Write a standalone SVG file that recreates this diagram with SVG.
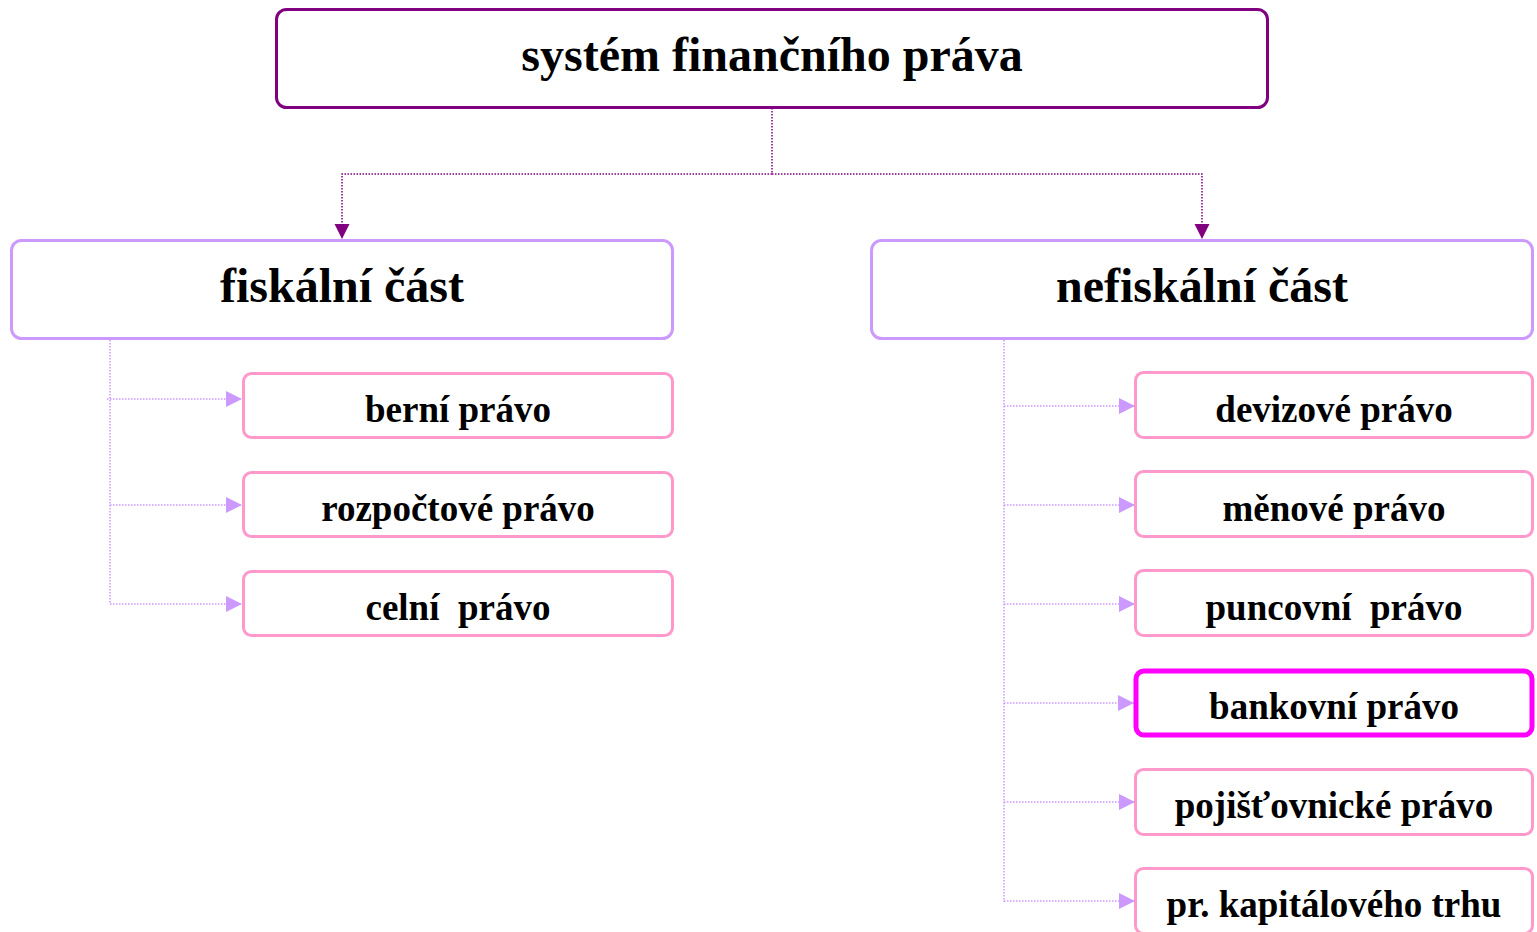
<svg xmlns="http://www.w3.org/2000/svg" width="1537" height="932" viewBox="0 0 1537 932">
<style>
text{font-family:"Liberation Serif","Times New Roman",serif;font-weight:bold;fill:#000;text-anchor:middle}
.t1{font-size:48px}
.t3{font-size:37px}
.top{fill:#fff;stroke:#800080;stroke-width:3}
.lv2{fill:#fff;stroke:#CC99FF;stroke-width:3}
.lv3{fill:#fff;stroke:#FF99CC;stroke-width:3}
.hl{fill:#fff;stroke:#FF00FF;stroke-width:5}
.c1{fill:none;stroke:#800080;stroke-width:1.5;stroke-dasharray:1.5 1.5}
.c2{fill:none;stroke:#CC99FF;stroke-width:1.5;stroke-dasharray:1.5 1.5}
</style>
<defs>
<marker id="a1" markerUnits="userSpaceOnUse" markerWidth="16" markerHeight="16" refX="15" refY="7.5" orient="auto"><path d="M0,0 L15,7.5 L0,15 z" fill="#800080"/></marker>
<marker id="a2" markerUnits="userSpaceOnUse" markerWidth="17" markerHeight="17" refX="16" refY="8" orient="auto"><path d="M0,0 L16,8 L0,16 z" fill="#CC99FF"/></marker>
</defs>
<rect width="1537" height="932" fill="#fff"/>
<g id="connectors">
<path class="c1" d="M772,108 V174 H342 V239" marker-end="url(#a1)"/>
<path class="c1" d="M772,174 H1202 V239" marker-end="url(#a1)"/>
<path class="c2" d="M110,340 V604"/>
<path class="c2" d="M107,399 H242" marker-end="url(#a2)"/>
<path class="c2" d="M110,505 H242" marker-end="url(#a2)"/>
<path class="c2" d="M110,604 H242" marker-end="url(#a2)"/>
<path class="c2" d="M1004,340 V902"/>
<path class="c2" d="M1004,406 H1135" marker-end="url(#a2)"/>
<path class="c2" d="M1004,505 H1135" marker-end="url(#a2)"/>
<path class="c2" d="M1004,604 H1135" marker-end="url(#a2)"/>
<path class="c2" d="M1004,703 H1134" marker-end="url(#a2)"/>
<path class="c2" d="M1004,802 H1135" marker-end="url(#a2)"/>
<path class="c2" d="M1004,901 H1135" marker-end="url(#a2)"/>
</g>
<g id="n-system"><rect class="top" x="276.5" y="9.5" width="991" height="98" rx="10"/><text class="t1" x="772" y="71">systém finančního práva</text></g>
<g id="n-fiskalni"><rect class="lv2" x="11.5" y="240.5" width="661" height="98" rx="10"/><text class="t1" x="342" y="302">fiskální část</text></g>
<g id="n-nefiskalni"><rect class="lv2" x="871.5" y="240.5" width="661" height="98" rx="10"/><text class="t1" x="1202" y="302">nefiskální část</text></g>
<g id="n-berni"><rect class="lv3" x="243.5" y="373.5" width="429" height="64" rx="8"/><text class="t3" x="458" y="422">berní právo</text></g>
<g id="n-rozpoctove"><rect class="lv3" x="243.5" y="472.5" width="429" height="64" rx="8"/><text class="t3" x="458" y="521">rozpočtové právo</text></g>
<g id="n-celni"><rect class="lv3" x="243.5" y="571.5" width="429" height="64" rx="8"/><text class="t3" x="458" y="620" xml:space="preserve">celní  právo</text></g>
<g id="n-devizove"><rect class="lv3" x="1135.5" y="372.5" width="397" height="65" rx="8"/><text class="t3" x="1334" y="422">devizové právo</text></g>
<g id="n-menove"><rect class="lv3" x="1135.5" y="471.5" width="397" height="65" rx="8"/><text class="t3" x="1334" y="521">měnové právo</text></g>
<g id="n-puncovni"><rect class="lv3" x="1135.5" y="570.5" width="397" height="65" rx="8"/><text class="t3" x="1334" y="620" xml:space="preserve">puncovní  právo</text></g>
<g id="n-bankovni"><rect class="hl" x="1136" y="671" width="396" height="64" rx="8"/><text class="t3" x="1334" y="719">bankovní právo</text></g>
<g id="n-pojistovnicke"><rect class="lv3" x="1135.5" y="769.5" width="397" height="65" rx="8"/><text class="t3" x="1334" y="818">pojišťovnické právo</text></g>
<g id="n-kapital"><rect class="lv3" x="1135.5" y="868.5" width="397" height="65" rx="8"/><text class="t3" x="1334" y="917">pr. kapitálového trhu</text></g>
</svg>
